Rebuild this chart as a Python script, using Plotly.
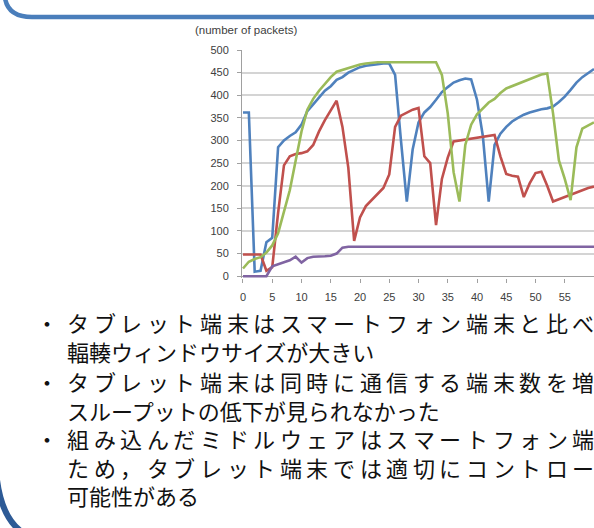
import plotly.graph_objects as go

# time axis (seconds)
t = list(range(0, 61))

blue = [362, 362, 10, 12, 75, 85, 285, 300, 310, 318, 335, 365, 380, 395, 410, 420,
        434, 440, 450, 456, 462, 465, 467, 469, 470, 470, 445, 300, 165, 280, 340,
        362, 374, 390, 407, 418, 428, 433, 437, 435, 390, 310, 165, 290, 315, 330,
        342, 350, 357, 362, 366, 369, 371, 375, 385, 397, 412, 428, 440, 450, 458]

red = [48, 48, 48, 48, 12, 20, 140, 245, 265, 270, 272, 276, 290, 320, 345, 365,
       388, 330, 240, 78, 130, 155, 168, 180, 195, 225, 330, 355, 362, 368, 372,
       265, 250, 113, 215, 262, 298, 300, 303, 305, 306, 308, 310, 312, 265, 226,
       222, 220, 175, 205, 228, 231, 200, 165, 170, 175, 180, 185, 190, 195, 198]

green = [17, 32, 38, 42, 52, 68, 95, 145, 190, 255, 320, 368, 392, 410, 425, 440,
         452, 456, 460, 465, 468, 470, 472, 473, 473, 473, 473, 473, 473, 473, 473,
         473, 473, 473, 445, 360, 230, 165, 290, 335, 358, 372, 384, 392, 405, 415,
         420, 426, 431, 436, 441, 446, 448, 360, 256, 215, 168, 285, 326, 333, 340]

purple = [0, 0, 0, 0, 0, 22, 27, 31, 35, 43, 30, 40, 43, 43, 44, 45, 50, 63, 65, 65,
          65, 65, 65, 65, 65, 65, 65, 65, 65, 65, 65, 65, 65, 65, 65, 65, 65, 65, 65,
          65, 65, 65, 65, 65, 65, 65, 65, 65, 65, 65, 65, 65, 65, 65, 65, 65, 65, 65,
          65, 65, 65]

x_ticks = [0, 5, 10, 15, 20, 25, 30, 35, 40, 45, 50, 55]
y_ticks = [0, 50, 100, 150, 200, 250, 300, 350, 400, 450, 500]

# (bullet mark, text, justified?)  -- wrapped lines are stretched to the box width
bullets = [
    ("・", "タブレット端末はスマートフォン端末と比べ", True),
    ("", "輻輳ウィンドウサイズが大きい", False),
    ("・", "タブレット端末は同時に通信する端末数を増", True),
    ("", "スループットの低下が見られなかった", False),
    ("・", "組み込んだミドルウェアはスマートフォン端", True),
    ("", "ため，タブレット端末では適切にコントロー", True),
    ("", "可能性がある", False),
]

W, H = 594, 528
PL, PR, PT, PB = 242, 594, 50, 278


def px(x):
    return (x - PL) / (PR - PL)


def py(y):
    return (PB - y) / (PB - PT)


series = [
    (blue, "#4F81BD"),
    (red, "#C0504D"),
    (green, "#9BBB59"),
    (purple, "#8064A2"),
]

fig = go.Figure()
for vals, col in series:
    fig.add_trace(go.Scatter(x=t, y=vals, mode="lines",
                             line=dict(color=col, width=2.6),
                             hoverinfo="skip", showlegend=False))

axis_font = dict(family="Liberation Sans Narrow, Liberation Sans, sans-serif",
                 size=11, color="#404040")

fig.update_layout(
    template="none",
    width=W, height=H,
    margin=dict(l=PL, r=W - PR, t=PT, b=H - PB, autoexpand=False),
    paper_bgcolor="white", plot_bgcolor="white",
    showlegend=False,
    xaxis=dict(range=[-0.17, 60.0], tickvals=x_ticks, showgrid=False,
               showline=False, zeroline=False, ticks="outside", ticklen=4,
               tickcolor="#A0A0A0", tickfont=axis_font, automargin=False,
               ticklabelstandoff=5),
    yaxis=dict(range=[-4, 500], tickvals=y_ticks, showgrid=True,
               gridcolor="#D4D4D4", gridwidth=1.5, showline=True,
               linecolor="#A0A0A0", linewidth=1, zeroline=True,
               zerolinecolor="#A0A0A0", zerolinewidth=1,
               ticks="outside", ticklen=4, tickcolor="#A0A0A0",
               tickfont=axis_font, automargin=False, ticklabelstandoff=6),
)

# chart caption above the value axis
fig.add_annotation(x=px(246), y=py(30), xref="paper", yref="paper",
                   text="(number of packets)", showarrow=False,
                   font=dict(family="Liberation Sans Narrow, Liberation Sans, sans-serif",
                             size=11.5, color="#404040"),
                   xanchor="center", yanchor="middle")

# bullet list
line_y = [322, 351, 381, 410, 438, 467, 495]
jp_font = dict(family="Noto Sans CJK JP", size=22, color="#111111")
TEXT_X = 66
PITCH = 26.6  # character pitch of the stretched lines
for (mark, text, justified), yy in zip(bullets, line_y):
    if mark:
        fig.add_annotation(x=px(47), y=py(yy), xref="paper", yref="paper",
                           text=mark, showarrow=False, font=jp_font,
                           xanchor="center", yanchor="middle", borderpad=0)
    if justified:
        for i, ch in enumerate(text):
            fig.add_annotation(x=px(TEXT_X + i * PITCH), y=py(yy),
                               xref="paper", yref="paper", text=ch,
                               showarrow=False, font=jp_font, borderpad=0,
                               xanchor="left", yanchor="middle")
    else:
        fig.add_annotation(x=px(TEXT_X), y=py(yy), xref="paper", yref="paper",
                           text=text, showarrow=False, font=jp_font, borderpad=0,
                           xanchor="left", yanchor="middle")

# frame of the panel above
top_path = f"M {px(5)},{py(-2)} Q {px(8)},{py(17)} {px(32)},{py(17)} L {px(600)},{py(17)}"
fig.add_shape(type="path", path=top_path, xref="paper", yref="paper",
              line=dict(color="#4A7EBB", width=4.5))

# frame of the panel below
bot_path = f"M {px(-3)},{py(480)} Q {px(2)},{py(518)} {px(22)},{py(532)}"
fig.add_shape(type="path", path=bot_path, xref="paper", yref="paper",
              line=dict(color="#2D5A96", width=6))

fig.write_html("out.html")
